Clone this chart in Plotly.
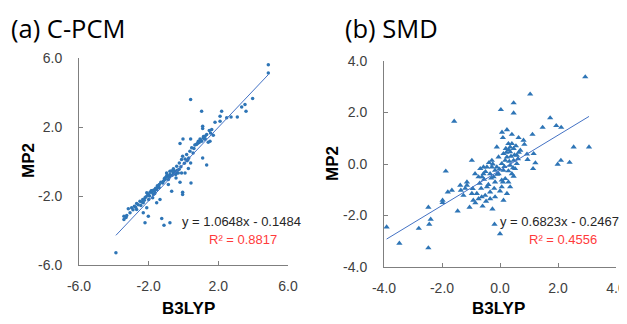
import plotly.graph_objects as go

# Panel (a) C-PCM: B3LYP (x) vs MP2 (y)
cpcm_x = [4.87, 4.87, 0.41, 3.97, 3.53, 3.59, 3.34, 3.09, 2.73, 2.48, 2.19, 2.10, 2.10, 1.81,
          1.04, 1.10, 1.10, 1.62, 1.48, 1.33, 1.71, 1.23, 1.14, 0.95, 0.85, 1.04, 1.42, 1.52,
          0.72, 0.41, -0.03, -0.20, 0.47, 0.37, 0.18, -0.05, -0.11, 0.09, 0.41, 1.10, 1.33,
          -0.24, -0.39, -0.58, -0.78, -0.97, -0.78, -0.58, -0.43, -0.30, -0.11, 0.09, 0.28,
          -1.06, -0.87, -1.16, -1.39, -1.45, -1.54, -1.67, -1.83, -1.92, -2.02, -2.11, -1.73,
          -2.21, -2.34, -2.50, -2.69, -2.82, -2.98, -3.17, -3.42, -3.42, -3.26, -3.07, -2.69,
          -2.31, -2.11, -2.02, -2.21, -2.31, -1.77, -1.54, -1.35, -1.25, -1.12, -0.78, -0.05,
          -0.05, 0.43, -0.20, -0.43, -0.68, -0.87, -3.88,
          0.95, 1.00, 1.20, 0.80, 0.60, 0.55, 0.30, 0.20, -0.15, -0.35, -0.50, -0.65, -0.70,
          -0.90, -1.00, -1.10, -1.20, -1.30, -1.50, -1.60, -1.70, -1.85, -1.95, -2.05, -2.15,
          -2.25, -2.40, -2.60, -2.75, -2.90, -1.40, -0.95, -0.60, -0.25, 0.05, 0.65, 1.15,
          1.25, 0.90, 0.75, -0.80, -1.05, -1.65, -2.45, -3.30, -2.00, -1.80, -0.45, 0.25, 1.55]
cpcm_y = [5.61, 5.13, 3.59, 3.65, 3.30, 2.91, 3.16, 2.58, 2.58, 2.53, 2.91, 2.62, 2.33, 2.28,
          2.91, 2.04, 1.91, 1.85, 1.79, 1.56, 1.52, 1.47, 1.37, 1.31, 1.18, 1.18, 1.12, 1.18,
          0.98, 1.31, 1.31, 1.04, 0.79, 0.60, 0.40, 0.31, 0.12, 0.15, -0.08, 0.21, -0.21,
          -0.08, -0.27, -0.42, -0.56, -0.66, -0.75, -0.66, -0.70, -0.66, -0.66, -0.66, -0.41,
          -0.95, -1.04, -1.14, -1.33, -1.49, -1.62, -1.72, -1.78, -1.78, -1.91, -1.81, -1.91,
          -2.10, -2.20, -2.30, -2.43, -2.59, -2.68, -2.74, -3.17, -3.36, -3.13, -2.97, -2.78,
          -2.39, -2.68, -3.17, -3.55, -2.97, -2.10, -2.39, -2.20, -3.30, -3.69, -3.55, -1.78,
          -1.91, -1.24, -1.20, -0.95, -1.72, -1.33, -5.29,
          1.20, 1.25, 1.30, 1.05, 0.75, 0.50, 0.20, 0.05, -0.30, -0.50, -0.55, -0.80, -0.55,
          -0.85, -0.90, -1.00, -1.25, -1.20, -1.40, -1.55, -1.65, -1.70, -2.00, -1.95, -2.05,
          -2.25, -2.35, -2.50, -2.65, -2.80, -1.50, -0.80, -0.50, -0.45, -0.10, 0.95, 1.45,
          1.30, 1.10, 1.00, -0.90, -1.05, -1.85, -2.55, -3.25, -2.20, -1.70, -0.75, 0.10, 1.65]

# Panel (b) SMD
smd_x = [2.94, 1.04, 0.47, 0.47, 0.03, -1.58, 1.73, 1.94, 2.11, 1.47, 1.12, 0.07, 0.24, 0.41,
         0.64, 0.81, 0.84, 2.54, 3.07, 1.16, 1.22, 1.14, 1.99, 2.10, 2.40, 0.95, 0.93, 0.10,
         -0.11, -0.97, -0.57, -1.14, -1.37, -1.35, -1.66, -1.80, -1.98, -1.98, -1.87, -1.05,
         -1.46, -2.47, -2.39, -2.44, -2.80, -3.91, -3.47, -2.47, -0.19, 0.00, -0.26, -0.60,
         -0.85, -0.40, 0.06, 0.12, 0.24, 0.35, 0.47, 0.41, 0.29, 0.52, 0.58, 0.70, 0.35, 0.12,
         -0.05, -0.28, -0.45, -0.68, -0.86, -0.74, -0.57, -0.34, -0.22, -0.17, -0.45, -0.34,
         -0.51, -0.63, -0.34, -0.17, -0.80, -0.97, -0.92, -0.74, -1.14, -0.94, -1.26, -0.11,
         0.06, 0.18, 0.24, 0.35, 0.47, 0.29, 0.41, 0.47, 0.58, 0.35, 0.12, -0.05, -0.17, -0.28,
         0.18, 0.29, 0.06,
         0.30, 0.38, 0.50, 0.55, 0.22, 0.15, -0.02, -0.30, -0.38, -0.50, -0.62, -0.70, -0.20,
         0.00, 0.10, 0.45, 0.62, -0.48, -0.55, -0.25, -0.10, 0.20, 0.32, -0.65, -1.20, 0.65]
smd_y = [3.38, 2.71, 2.37, 1.98, 2.11, 1.66, 1.79, 1.49, 1.42, 1.42, 1.15, 1.23, 1.33, 1.15,
         1.02, 0.92, 0.76, 0.66, 0.66, 0.40, 0.04, -0.18, -0.01, 0.14, 0.06, 0.17, 0.38, 1.02,
         0.66, 0.14, -0.12, -0.70, -0.83, -1.02, -1.02, -1.09, -1.41, -1.50, -0.28, -1.68,
         -1.83, -1.68, -2.15, -2.34, -2.50, -2.45, -3.08, -3.26, -2.34, -2.71, -1.75, -1.64,
         -1.51, -0.80, -0.89, -1.41, -1.15, -0.89, -0.48, -0.38, -0.27, -0.18, 0.34, 0.53,
         0.66, 0.40, 0.27, 0.14, -0.12, -0.18, -0.38, -0.50, -0.38, -0.38, -0.50, -0.70, -0.89,
         -1.09, -1.22, -1.28, -1.35, -1.28, -1.15, -1.15, -1.41, -1.35, -0.83, -0.96, -1.22,
         -0.12, 0.01, 0.14, 0.27, 0.47, 0.60, 0.79, 0.79, 0.14, 0.01, -0.05, -0.25, -0.38,
         -0.25, -0.12, -0.57, -0.70, -0.63,
         0.55, 0.30, 0.35, 0.70, 0.45, -0.10, -0.20, -0.55, 0.05, -0.30, -0.50, -0.75, -0.95,
         -1.05, -0.70, -0.15, 0.20, -1.45, -0.60, 0.00, -0.40, 0.60, 0.10, -0.95, -0.95, 0.45]

cpcm_fit = [1.0648, -0.1484]
smd_fit = [0.6823, -0.2467]

# Tick values and their labels (hyphen-minus as in the reference)
cpcm_ticks = [-6, -2, 2, 6]
cpcm_ticklabels = ["-6.0", "-2.0", "2.0", "6.0"]
smd_ticks = [-4, -2, 0, 2, 4]
smd_ticklabels = ["-4.0", "-2.0", "0.0", "2.0", "4.0"]

marker_color = "#2E75B6"
line_color = "#4472C4"

fig = go.Figure()
fig.add_trace(go.Scatter(x=cpcm_x, y=cpcm_y, mode="markers", xaxis="x", yaxis="y",
                         marker=dict(color=marker_color, size=3.5, symbol="circle"),
                         showlegend=False))
lx = [min(cpcm_x), max(cpcm_x)]
fig.add_trace(go.Scatter(x=lx, y=[cpcm_fit[0] * v + cpcm_fit[1] for v in lx], mode="lines",
                         xaxis="x", yaxis="y", line=dict(color=line_color, width=1),
                         showlegend=False))
fig.add_trace(go.Scatter(x=smd_x, y=smd_y, mode="markers", xaxis="x2", yaxis="y2",
                         marker=dict(color=marker_color, size=5.5, symbol="triangle-up"),
                         showlegend=False))
rx = [min(smd_x), max(smd_x)]
fig.add_trace(go.Scatter(x=rx, y=[smd_fit[0] * v + smd_fit[1] for v in rx], mode="lines",
                         xaxis="x2", yaxis="y2", line=dict(color=line_color, width=1),
                         showlegend=False))

# The page body has an 8px margin, so the figure is placed 8px in from the corner.
OFF = 8
W, H = 627 - OFF, 324 - OFF

def fx(px):
    return (px - OFF) / W

def fy(py):
    return 1 - (py - OFF) / H

axis_common = dict(showgrid=False, zeroline=False, showline=True, linecolor="#7F7F7F",
                   linewidth=1, ticks="inside", ticklen=4, tickcolor="#7F7F7F",
                   tickfont=dict(family="Arial", size=14, color="#404040"),
                   mirror=False, automargin=False, tickmode="array")

fig.update_layout(
    width=W, height=H, margin=dict(l=0, r=0, t=0, b=0, pad=0, autoexpand=False),
    paper_bgcolor="white", plot_bgcolor="white",
    xaxis=dict(domain=[fx(79), fx(288)], range=[-6, 6], tickvals=cpcm_ticks,
               ticktext=cpcm_ticklabels, anchor="y", ticklabelstandoff=8, **axis_common),
    yaxis=dict(domain=[fy(265), fy(58)], range=[-6, 6], tickvals=cpcm_ticks,
               ticktext=cpcm_ticklabels, anchor="x", ticklabelstandoff=13, **axis_common),
    xaxis2=dict(domain=[fx(384), fx(616)], range=[-4, 4], tickvals=smd_ticks,
                ticktext=smd_ticklabels, anchor="y2", ticklabelstandoff=8, **axis_common),
    yaxis2=dict(domain=[fy(267), fy(61)], range=[-4, 4], tickvals=smd_ticks,
                ticktext=smd_ticklabels, anchor="x2", ticklabelstandoff=13, **axis_common),
)

def ann(text, x, y, size, color="#000000", bold=False, xanchor="left", angle=0,
        family="Arial"):
    t = f"<b>{text}</b>" if bold else text
    fig.add_annotation(text=t, x=fx(x), y=fy(y), xref="paper", yref="paper",
                       xanchor=xanchor, yanchor="middle", showarrow=False, textangle=angle,
                       font=dict(family=family, size=size, color=color))

ann("(a) C-PCM", 9, 28, 25.5, "#000000", family="Open Sans")
ann("(b) SMD", 343, 28, 25.5, "#000000", family="Open Sans")
ann("MP2", 28, 161, 17, "#000000", bold=True, xanchor="center", angle=-90)
ann("MP2", 332, 164, 17, "#000000", bold=True, xanchor="center", angle=-90)
ann("B3LYP", 188, 308, 17, "#000000", bold=True, xanchor="center")
ann("B3LYP", 498, 308, 17, "#000000", bold=True, xanchor="center")
ann("y = 1.0648x - 0.1484", 180, 222, 13, "#262626")
ann("R² = 0.8817", 207, 239, 13, "#FF3B3B")
ann("y = 0.6823x - 0.2467", 498, 222, 13, "#262626")
ann("R² = 0.4556", 527, 239, 13, "#FF3B3B")

fig.write_html("out.html")
